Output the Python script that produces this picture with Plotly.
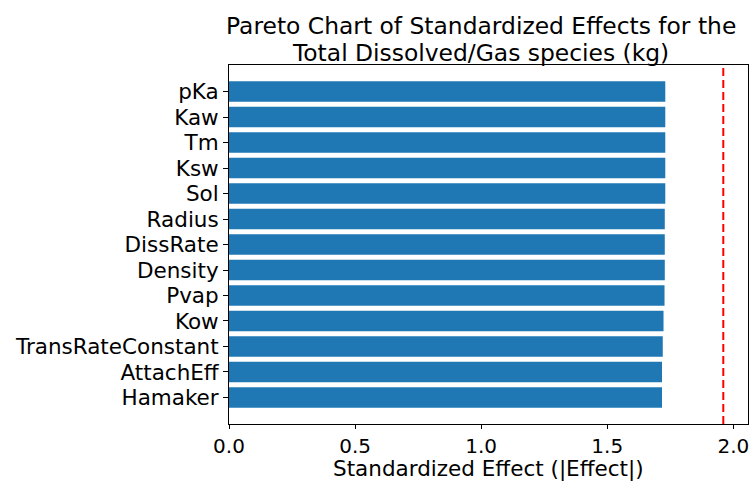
import plotly.graph_objects as go

# Factors listed bottom-to-top, as drawn on the y axis
factors = ["Hamaker", "AttachEff", "TransRateConstant", "Kow", "Pvap", "Density",
           "DissRate", "Radius", "Sol", "Ksw", "Tm", "Kaw", "pKa"]
effects = [1.717, 1.717, 1.720, 1.723, 1.727, 1.728,
           1.728, 1.728, 1.730, 1.730, 1.730, 1.730, 1.730]
critical_value = 1.96
x_ticks = [0.0, 0.5, 1.0, 1.5, 2.0]
title_lines = ["Pareto Chart of Standardized Effects for the",
               "Total Dissolved/Gas species (kg)"]
x_label = "Standardized Effect (|Effect|)"

font_family = "DejaVu Sans, Liberation Sans, sans-serif"

fig = go.Figure()
fig.add_trace(go.Bar(
    x=effects,
    y=factors,
    orientation="h",
    marker=dict(color="#1f77b4", line=dict(width=0)),
    width=0.8,
    showlegend=False,
))

fig.add_vline(x=critical_value, line=dict(color="red", width=2, dash="8px,4px"))

# Two-line title placed above the axes frame
for text, ypos in zip(title_lines, [1.1086, 1.0334]):
    fig.add_annotation(
        text=text, xref="paper", yref="paper", x=0.4855, y=ypos,
        xanchor="center", yanchor="middle", showarrow=False,
        font=dict(size=23.4, family=font_family, color="black"),
    )

# x-axis label below the tick labels
fig.add_annotation(
    text=x_label, xref="paper", yref="paper", x=0.5, y=-0.1267,
    xanchor="center", yanchor="middle", showarrow=False,
    font=dict(size=21.5, family=font_family, color="black"),
)

x_max = critical_value * 1.05
fig.update_layout(
    width=750,
    height=481,
    margin=dict(l=229, r=2, t=65, b=57),
    plot_bgcolor="white",
    paper_bgcolor="white",
    font=dict(family=font_family, size=21.5, color="black"),
    bargap=0.2,
)

fig.update_xaxes(
    range=[0, x_max],
    tickmode="array",
    tickvals=x_ticks,
    ticktext=[f"{v:.1f}" for v in x_ticks],
    ticklabeloverflow="allow",
    ticks="outside",
    ticklen=4,
    tickwidth=1,
    tickcolor="black",
    showline=True,
    linecolor="black",
    linewidth=1,
    mirror=True,
    showgrid=False,
    zeroline=False,
    tickfont=dict(size=20),
)
fig.update_yaxes(
    type="category",
    categoryorder="array",
    categoryarray=factors,
    tickmode="array",
    tickvals=factors,
    ticktext=factors,
    range=[-1.04, len(factors) - 1 + 1.04],
    ticklabeloverflow="allow",
    ticks="outside",
    ticklen=5,
    tickwidth=1,
    tickcolor="black",
    showline=True,
    linecolor="black",
    linewidth=1,
    mirror=True,
    showgrid=False,
    tickfont=dict(size=21.5),
)

fig.write_html("out.html")
